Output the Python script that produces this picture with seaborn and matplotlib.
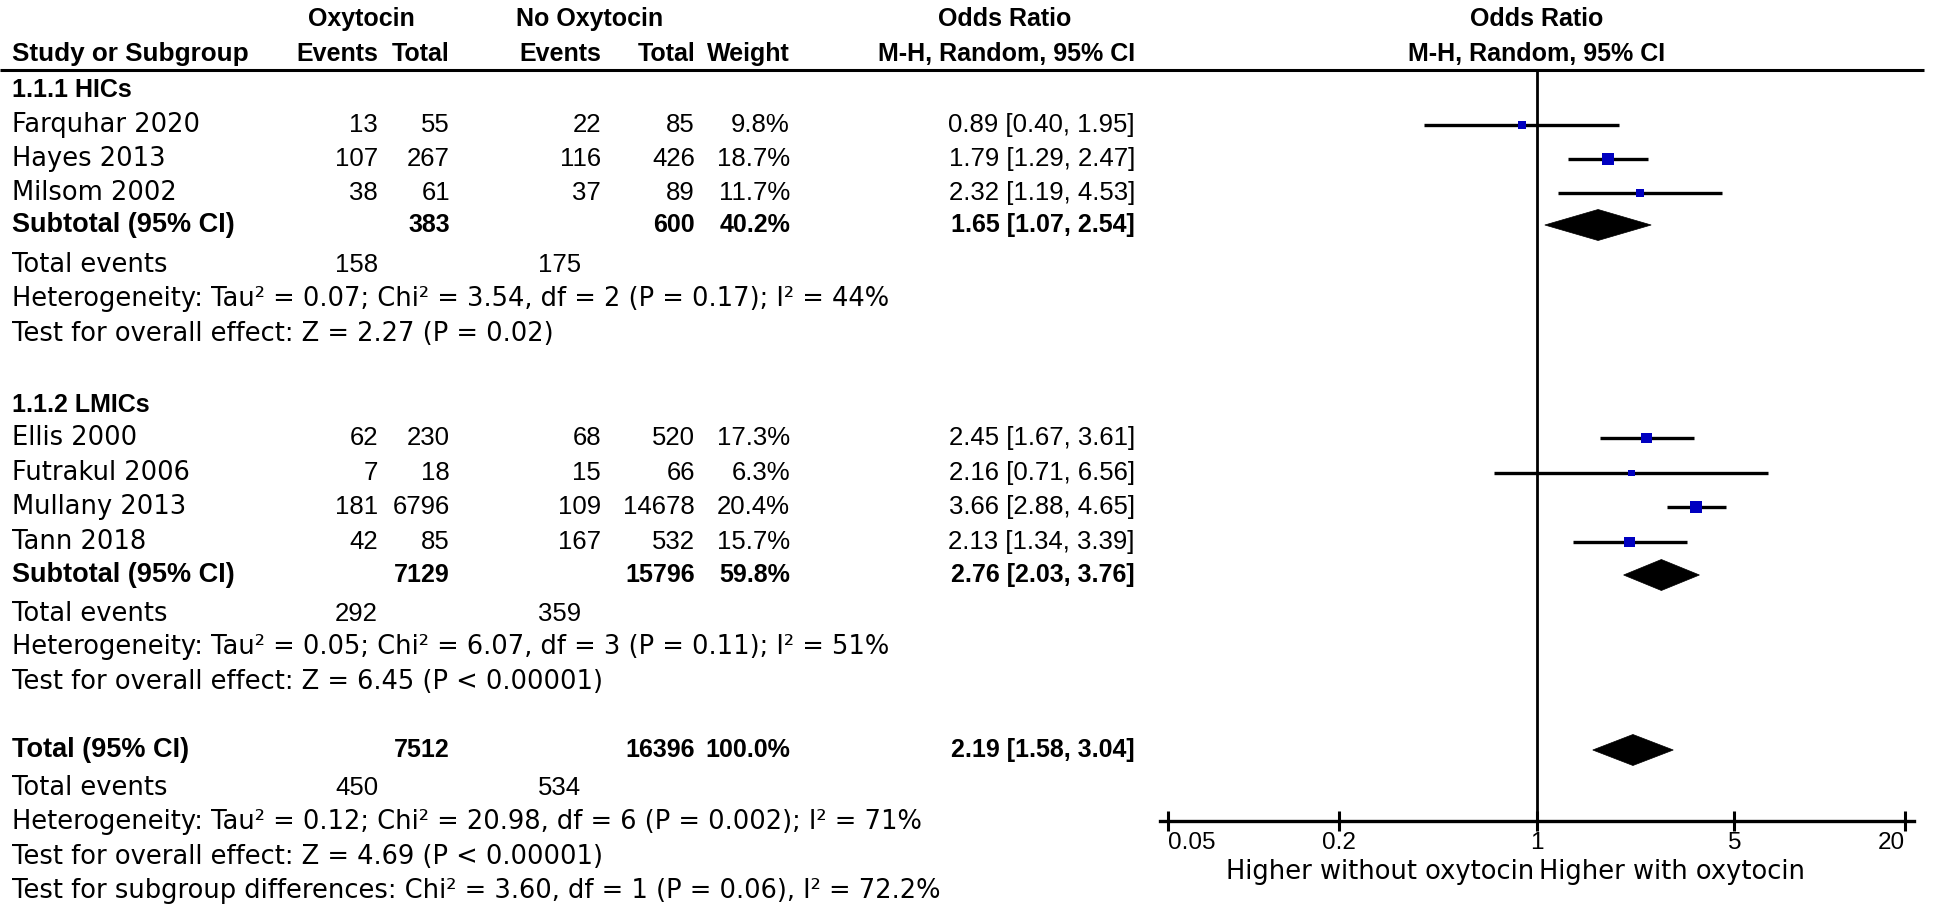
import matplotlib
matplotlib.use("Agg")
import matplotlib.pyplot as plt
import seaborn as sns
import pandas as pd
import numpy as np
from matplotlib.patches import Polygon

# --- Dados do forest plot ---
studies = ["Farquhar 2020", "Hayes 2013", "Milsom 2002",
           "Ellis 2000", "Futrakul 2006", "Mullany 2013", "Tann 2018"]
study_group = [0, 0, 0, 1, 1, 1, 1]
events_oxy = [13, 107, 38, 62, 7, 181, 42]
total_oxy = [55, 267, 61, 230, 18, 6796, 85]
events_no = [22, 116, 37, 68, 15, 109, 167]
total_no = [85, 426, 89, 520, 66, 14678, 532]
weight = [9.8, 18.7, 11.7, 17.3, 6.3, 20.4, 15.7]
or_est = [0.89, 1.79, 2.32, 2.45, 2.16, 3.66, 2.13]
or_low = [0.40, 1.29, 1.19, 1.67, 0.71, 2.88, 1.34]
or_high = [1.95, 2.47, 4.53, 3.61, 6.56, 4.65, 3.39]

group_names = ["1.1.1 HICs", "1.1.2 LMICs"]
group_total_oxy = [383, 7129]
group_total_no = [600, 15796]
group_events_oxy = [158, 292]
group_events_no = [175, 359]
group_weight = [40.2, 59.8]
group_or = [1.65, 2.76]
group_low = [1.07, 2.03]
group_high = [2.54, 3.76]
group_het = ["Heterogeneity: Tau² = 0.07; Chi² = 3.54, df = 2 (P = 0.17); I² = 44%",
             "Heterogeneity: Tau² = 0.05; Chi² = 6.07, df = 3 (P = 0.11); I² = 51%"]
group_test = ["Test for overall effect: Z = 2.27 (P = 0.02)",
              "Test for overall effect: Z = 6.45 (P < 0.00001)"]

overall_total_oxy = 7512
overall_total_no = 16396
overall_events_oxy = 450
overall_events_no = 534
overall_weight = 100.0
overall_or = 2.19
overall_low = 1.58
overall_high = 3.04
overall_het = "Heterogeneity: Tau² = 0.12; Chi² = 20.98, df = 6 (P = 0.002); I² = 71%"
overall_test = "Test for overall effect: Z = 4.69 (P < 0.00001)"
subgroup_diff = "Test for subgroup differences: Chi² = 3.60, df = 1 (P = 0.06), I² = 72.2%"

x_ticks = [0.05, 0.2, 1, 5, 20]
x_tick_labels = ["0.05", "0.2", "1", "5", "20"]
label_left = "Higher without oxytocin"
label_right = "Higher with oxytocin"

# --- Layout (pixels da figura) ---
W, H = 1952, 908
study_y = [125, 159, 193, 438, 473, 507, 542]
group_head_y = [90, 405]
subtotal_y = [225, 575]
events_y = [265, 614]
het_y = [299, 647]
test_y = [334, 682]
total_y, total_ev_y, total_het_y, total_test_y, subdiff_y = 750, 788, 822, 857, 891
head1_y, head2_y, rule_y = 19, 54, 70
axis_y = 821

x_name = 12
x_ev_oxy, x_tot_oxy, x_ev_no, x_tot_no, x_weight, x_or = 378, 450, 601, 695, 790, 1135
x_tev_no = 581            # "Total events" do grupo sem ocitocina fica mais à esquerda
x_head_oxy, x_head_no, x_head_or = 361, 590, 1005

TXT_FONT = "DejaVu Sans"       # rótulos e linhas de texto (letras largas)
NUM_FONT = "Liberation Sans"   # números e negrito (algarismos estreitos)
FS_TXT = 18.5
FS_NUM = 18.5
FS_BNUM = 18
FS_HEAD = 18
FS_BLBL = 19.5
FS_TICK = 17.5

sns.set_theme(style="white")
plt.rcParams['font.family'] = [TXT_FONT]
plt.rcParams['text.color'] = 'black'
plt.rcParams['xtick.color'] = 'black'
plt.rcParams['axes.labelcolor'] = 'black'

fig = plt.figure(figsize=(W / 100, H / 100), dpi=100)
ax_t = fig.add_axes([0, 0, 1, 1])
ax_t.set_xlim(0, W)
ax_t.set_ylim(H, 0)
ax_t.axis("off")


def txt(x, y, s, ha="left", size=FS_TXT, bold=False, family=TXT_FONT, ax=None):
    ax = ax_t if ax is None else ax
    ax.text(x, y, s, ha=ha, va="center", fontsize=size, family=[family, "DejaVu Sans"],
            fontweight="bold" if bold else "normal", color="black", clip_on=False)


def row(y, cells, bold=False, size=None):
    if size is None:
        size = FS_BNUM if bold else FS_NUM
    for x, s in cells:
        txt(x, y, s, ha="right", size=size, bold=bold, family=NUM_FONT)


def bold_label(y, s, size=FS_BLBL):
    txt(x_name, y, s, size=size, bold=True, family=NUM_FONT)


# cabeçalho
txt(x_head_oxy, head1_y, "Oxytocin", ha="center", size=FS_HEAD, bold=True, family=NUM_FONT)
txt(x_head_no, head1_y, "No Oxytocin", ha="center", size=FS_HEAD, bold=True, family=NUM_FONT)
txt(x_head_or, head1_y, "Odds Ratio", ha="center", size=FS_HEAD, bold=True, family=NUM_FONT)
bold_label(head2_y, "Study or Subgroup", size=FS_BLBL - 0.7)
row(head2_y, [(x_ev_oxy, "Events"), (x_tot_oxy, "Total"), (x_ev_no, "Events"),
              (x_tot_no, "Total"), (x_weight, "Weight"), (x_or, "M-H, Random, 95% CI")],
    bold=True, size=FS_HEAD)
ax_t.plot([0, 1924], [rule_y, rule_y], color="black", lw=2.2, solid_capstyle="butt")

# estudos e subgrupos
for g, gname in enumerate(group_names):
    bold_label(group_head_y[g], gname, size=FS_HEAD)
    for i in [k for k in range(len(studies)) if study_group[k] == g]:
        txt(x_name, study_y[i], studies[i])
        row(study_y[i], [(x_ev_oxy, str(events_oxy[i])), (x_tot_oxy, str(total_oxy[i])),
                         (x_ev_no, str(events_no[i])), (x_tot_no, str(total_no[i])),
                         (x_weight, f"{weight[i]:.1f}%"),
                         (x_or, f"{or_est[i]:.2f} [{or_low[i]:.2f}, {or_high[i]:.2f}]")])
    bold_label(subtotal_y[g], "Subtotal (95% CI)")
    row(subtotal_y[g], [(x_tot_oxy, str(group_total_oxy[g])), (x_tot_no, str(group_total_no[g])),
                        (x_weight, f"{group_weight[g]:.1f}%"),
                        (x_or, f"{group_or[g]:.2f} [{group_low[g]:.2f}, {group_high[g]:.2f}]")], bold=True)
    txt(x_name, events_y[g], "Total events")
    row(events_y[g], [(x_ev_oxy, str(group_events_oxy[g])), (x_tev_no, str(group_events_no[g]))])
    txt(x_name, het_y[g], group_het[g])
    txt(x_name, test_y[g], group_test[g])

# total geral
bold_label(total_y, "Total (95% CI)")
row(total_y, [(x_tot_oxy, str(overall_total_oxy)), (x_tot_no, str(overall_total_no)),
              (x_weight, f"{overall_weight:.1f}%"),
              (x_or, f"{overall_or:.2f} [{overall_low:.2f}, {overall_high:.2f}]")], bold=True)
txt(x_name, total_ev_y, "Total events")
row(total_ev_y, [(x_ev_oxy, str(overall_events_oxy)), (x_tev_no, str(overall_events_no))])
txt(x_name, total_het_y, overall_het)
txt(x_name, total_test_y, overall_test)
txt(x_name, subdiff_y, subgroup_diff)

# --- Eixo do forest plot (escala log) ---
px_lo, px_hi = 1168, 1905          # pixels de 0.05 e 20
f_left, f_right = 1150, 1935
dec = (px_hi - px_lo) / np.log10(20 / 0.05)
xlim = (0.05 * 10 ** ((f_left - px_lo) / dec), 20 * 10 ** ((f_right - px_hi) / dec))

ax_f = fig.add_axes([f_left / W, (H - axis_y) / H, (f_right - f_left) / W, (axis_y - rule_y) / H])
ax_f.set_facecolor("none")
ax_f.set_xscale("log")
ax_f.set_xlim(*xlim)
ax_f.set_ylim(axis_y, rule_y)

df = pd.DataFrame({"study": studies, "y": study_y, "or": or_est, "lo": or_low,
                   "hi": or_high, "weight": weight})
ax_f.hlines(df["y"], df["lo"], df["hi"], color="black", lw=2.4, zorder=2)
sns.scatterplot(data=df, x="or", y="y", size="weight", sizes=(0, 72), size_norm=(0, max(weight)),
                marker="s", color="#0000c0", edgecolor="none", linewidth=0, legend=False,
                ax=ax_f, zorder=3)

half_h = 15.5
diam = list(zip(group_low + [overall_low], group_or + [overall_or],
                group_high + [overall_high], subtotal_y + [total_y]))
for lo, est, hi, y in diam:
    ax_f.add_patch(Polygon([(lo, y), (est, y - half_h), (hi, y), (est, y + half_h)],
                           closed=True, facecolor="black", edgecolor="black", lw=0.5, zorder=3))

ax_f.axvline(1, color="black", lw=2, zorder=1)

for s in ["top", "right", "left"]:
    ax_f.spines[s].set_visible(False)
ax_f.spines["bottom"].set_color("black")
ax_f.spines["bottom"].set_linewidth(2.4)
ax_f.spines["bottom"].set_bounds(0.05 * 10 ** (-8 / dec), 20 * 10 ** (9 / dec))
ax_f.set_xticks(x_ticks)
ax_f.set_xticklabels(x_tick_labels, family=[NUM_FONT, "DejaVu Sans"])
ax_f.xaxis.set_minor_locator(matplotlib.ticker.NullLocator())
ax_f.tick_params(axis="x", direction="inout", length=14, width=2.2, color="black",
                 labelcolor="black", labelsize=FS_TICK, pad=1, bottom=True)
ax_f.tick_params(axis="y", left=False, labelleft=False)
tl = ax_f.get_xticklabels()
tl[0].set_horizontalalignment("left")
tl[-1].set_horizontalalignment("right")
ax_f.set_xlabel("")
ax_f.set_ylabel("")
ax_f.grid(False)

txt(0.985, 872, label_left, ha="right", ax=ax_f)
txt(1.02, 872, label_right, ax=ax_f)
txt(1, head1_y, "Odds Ratio", ha="center", size=FS_HEAD, bold=True, family=NUM_FONT, ax=ax_f)
txt(1, head2_y, "M-H, Random, 95% CI", ha="center", size=FS_HEAD, bold=True, family=NUM_FONT, ax=ax_f)

fig.savefig("out.png", dpi=100)
